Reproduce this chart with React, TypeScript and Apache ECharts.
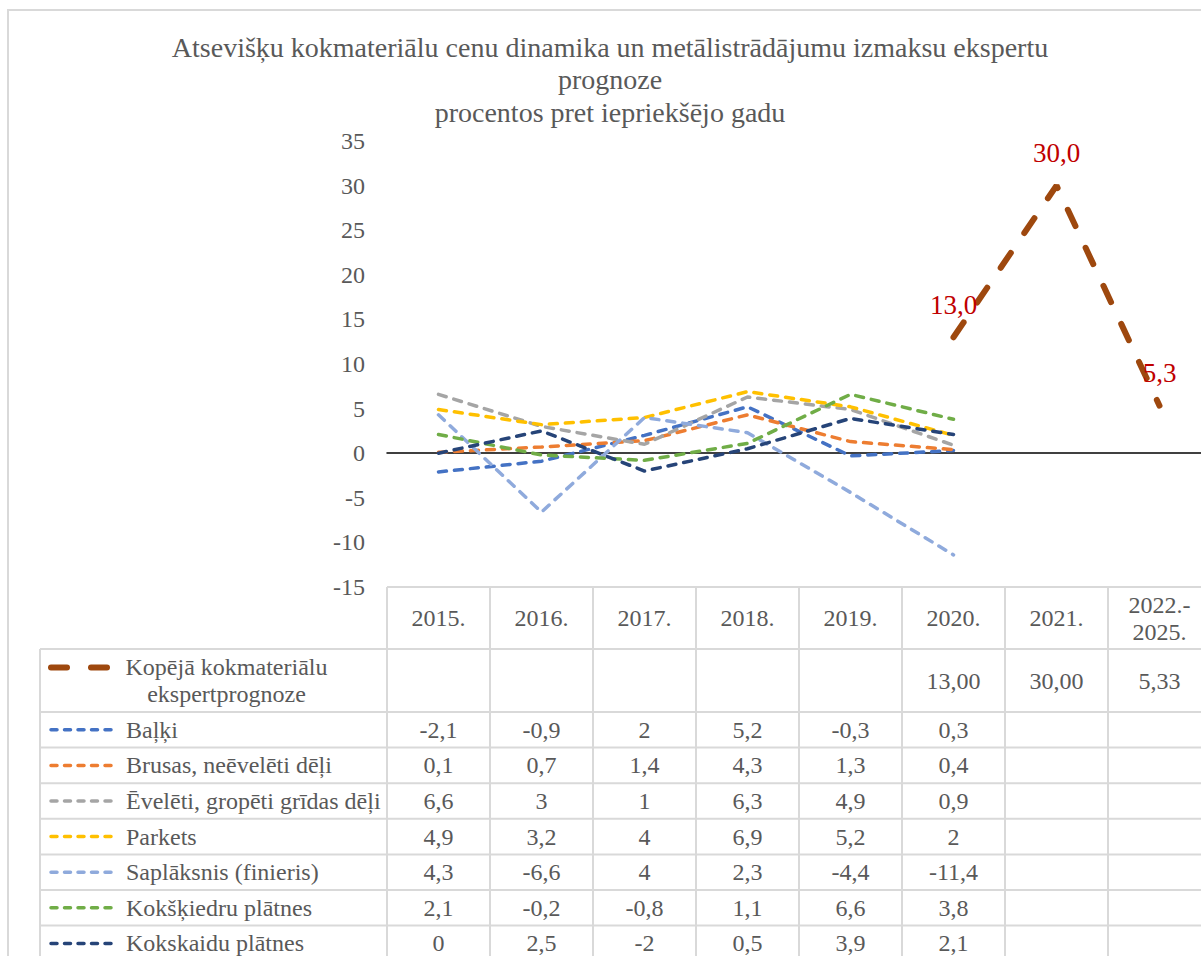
import React, { useEffect, useRef } from 'react';
import * as echarts from 'echarts';

// ---------- data ----------
const categories = ['2015.', '2016.', '2017.', '2018.', '2019.', '2020.', '2021.', '2022.-\n2025.'];

const forecastName = 'Kopējā kokmateriālu ekspertprognoze';
const forecastLabel = 'Kopējā kokmateriālu\nekspertprognoze';
const forecast = [null, null, null, null, null, 13.0, 30.0, 5.33];

const balki = [-2.1, -0.9, 2, 5.2, -0.3, 0.3, null, null];
const brusas = [0.1, 0.7, 1.4, 4.3, 1.3, 0.4, null, null];
const eveleti = [6.6, 3, 1, 6.3, 4.9, 0.9, null, null];
const parkets = [4.9, 3.2, 4, 6.9, 5.2, 2, null, null];
const saplaksnis = [4.3, -6.6, 4, 2.3, -4.4, -11.4, null, null];
const kokskiedru = [2.1, -0.2, -0.8, 1.1, 6.6, 3.8, null, null];
const kokskaidu = [0, 2.5, -2, 0.5, 3.9, 2.1, null, null];

const productNames = [
  'Baļķi',
  'Brusas, neēvelēti dēļi',
  'Ēvelēti, gropēti grīdas dēļi',
  'Parkets',
  'Saplāksnis (finieris)',
  'Kokšķiedru plātnes',
  'Kokskaidu plātnes',
];
const productValues = [balki, brusas, eveleti, parkets, saplaksnis, kokskiedru, kokskaidu];

const yTicks = { min: -15, max: 35, interval: 5 };

// ---------- styles ----------
const productColors = ['#4472C4', '#ED7D31', '#A5A5A5', '#FFC000', '#8FAADC', '#70AD47', '#264478'];
const forecastColor = '#9E480E';
const labelColor = '#C00000';
const FONT = '"Liberation Serif", "Times New Roman", serif';
const TEXT = '#595959';
const RULE = '#D9D9D9';

// ---------- layout ----------
const CHART_W = 1220;
const CHART_H = 1000;
const GRID_LEFT = 387;
const GRID_TOP = 141;
const COL_W = 103;
const GRID_H = 446;
const TABLE_LEFT = 40;
const HEADER_TOP = GRID_TOP + GRID_H;
const HEADER_BOTTOM = 649;
const FIRST_ROW_BOTTOM = 712;
const ROW_H = 35.6;
const FS = 24;

const fmt = (v: number | null) => (v == null ? '' : String(v).replace('.', ','));
const fmt2 = (v: number | null) => (v == null ? '' : v.toFixed(2).replace('.', ','));
const fmt1 = (v: number | null) => (v == null ? '' : v.toFixed(1).replace('.', ','));

function buildGraphic() {
  const g: any[] = [];
  const nCols = categories.length;
  const right = GRID_LEFT + nCols * COL_W;
  const rule = (x1: number, y1: number, x2: number, y2: number) =>
    g.push({ type: 'line', silent: true, shape: { x1, y1, x2, y2 }, style: { stroke: RULE, lineWidth: 2 } });
  const txt = (text: string, x: number, y: number, align = 'center') =>
    g.push({
      type: 'text',
      silent: true,
      x,
      y,
      style: { text, fill: TEXT, fontSize: FS, fontFamily: FONT, align, verticalAlign: 'middle', lineHeight: 27 },
    });

  // outer chart border
  g.push({
    type: 'rect',
    silent: true,
    shape: { x: 8, y: 10, width: CHART_W - 16, height: CHART_H + 100 },
    style: { fill: 'none', stroke: RULE, lineWidth: 2 },
  });

  // table rules
  const rowEdges: number[] = [HEADER_BOTTOM, FIRST_ROW_BOTTOM];
  for (let i = 1; i <= productNames.length; i++) rowEdges.push(FIRST_ROW_BOTTOM + ROW_H * i);
  rule(GRID_LEFT, HEADER_TOP, right, HEADER_TOP);
  rowEdges.forEach((y) => rule(TABLE_LEFT, y, right, y));
  rule(TABLE_LEFT, HEADER_BOTTOM, TABLE_LEFT, CHART_H);
  for (let i = 0; i <= nCols; i++) rule(GRID_LEFT + i * COL_W, HEADER_TOP, GRID_LEFT + i * COL_W, CHART_H);

  const colX = (i: number) => GRID_LEFT + (i + 0.5) * COL_W;

  // header
  categories.forEach((c, i) => txt(c, colX(i), (HEADER_TOP + HEADER_BOTTOM) / 2));

  // forecast row
  const fy = (HEADER_BOTTOM + FIRST_ROW_BOTTOM) / 2;
  g.push({
    type: 'line',
    silent: true,
    shape: { x1: 51, y1: fy - 13, x2: 110, y2: fy - 13 },
    style: { stroke: forecastColor, lineWidth: 6, lineDash: [16, 24], lineCap: 'round' },
  });
  txt(forecastLabel, 226.5, fy);
  forecast.forEach((v, i) => txt(fmt2(v), colX(i), fy));

  // product rows
  productNames.forEach((name, r) => {
    const y = FIRST_ROW_BOTTOM + ROW_H * (r + 0.5);
    g.push({
      type: 'line',
      silent: true,
      shape: { x1: 51, y1: y, x2: 117, y2: y },
      style: { stroke: productColors[r], lineWidth: 3.5, lineDash: [6, 7.5], lineCap: 'round' },
    });
    txt(name, 126, y, 'left');
    productValues[r].forEach((v, i) => txt(fmt(v), colX(i), y));
  });
  return g;
}

export default function App() {
  const ref = useRef<HTMLDivElement>(null);
  useEffect(() => {
    if (!ref.current) return;
    const chart = echarts.init(ref.current, null, { renderer: 'svg' });
    const series: any[] = [
      {
        name: forecastName,
        type: 'line',
        data: forecast,
        symbol: 'circle',
        symbolSize: 0.01,
        showSymbol: true,
        connectNulls: false,
        z: 3,
        itemStyle: { color: forecastColor },
        lineStyle: { color: forecastColor, width: 6, type: [18, 24], cap: 'round' },
        label: {
          show: true,
          position: 'top',
          distance: 19,
          formatter: (p: any) => fmt1(p.value as number),
          color: labelColor,
          fontSize: 27,
          fontFamily: FONT,
        },
      },
      ...productNames.map((name, r) => ({
        name,
        type: 'line',
        data: productValues[r],
        symbol: 'none',
        connectNulls: false,
        z: 3,
        lineStyle: { color: productColors[r], width: 3.5, type: [8, 8], cap: 'round' },
      })),
    ];
    chart.setOption({
      animation: false,
      backgroundColor: '#ffffff',
      title: {
        text: 'Atsevišķu kokmateriālu cenu dinamika un metālistrādājumu izmaksu ekspertu\nprognoze\nprocentos pret iepriekšējo gadu',
        left: 'center',
        top: 31,
        padding: 0,
        textStyle: { color: TEXT, fontSize: 28, fontWeight: 'normal', fontFamily: FONT, lineHeight: 32.5 },
      },
      grid: { left: GRID_LEFT, top: GRID_TOP, width: COL_W * categories.length, height: GRID_H },
      xAxis: {
        type: 'category',
        data: categories,
        boundaryGap: true,
        axisLine: { show: true, onZero: true, lineStyle: { color: '#000000', width: 1.5 } },
        axisTick: { show: false },
        axisLabel: { show: false },
        splitLine: { show: false },
      },
      yAxis: {
        type: 'value',
        min: yTicks.min,
        max: yTicks.max,
        interval: yTicks.interval,
        axisLine: { show: false },
        axisTick: { show: false },
        splitLine: { show: false },
        axisLabel: { color: TEXT, fontSize: FS, fontFamily: FONT, margin: 22 },
      },
      graphic: buildGraphic(),
      series,
    });
    return () => chart.dispose();
  }, []);
  return (
    <div style={{ position: 'absolute', left: 0, top: 0, width: 1201, height: 956, overflow: 'hidden', background: '#fff' }}>
      <div ref={ref} style={{ width: CHART_W, height: CHART_H }} />
    </div>
  );
}
